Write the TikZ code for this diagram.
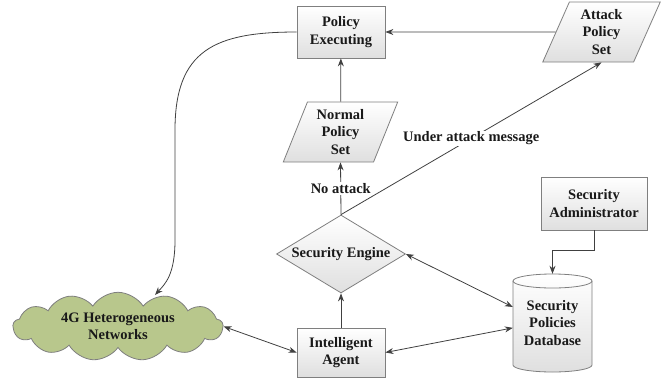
\documentclass[tikz,border=0pt]{standalone}
\usepackage{fontspec}
\setmainfont{Liberation Serif}
\usetikzlibrary{shapes.geometric,shapes.symbols,arrows.meta}
\definecolor{bordergray}{HTML}{7F7F7F}
\definecolor{arrowgray}{HTML}{404040}
\definecolor{cloudgreen}{RGB}{184,199,140}
\begin{document}
\begin{tikzpicture}[x=1pt,y=1pt,
  txt/.style={font=\fontsize{14.5}{17.5}\selectfont\bfseries, text=black!90, align=center},
  boxfill/.style={draw=bordergray, line width=0.8pt, top color=white, bottom color=gray!25},
  pbox/.style={boxfill, rectangle, minimum width=88pt, minimum height=52pt, inner sep=0pt, txt},
  para/.style={boxfill, trapezium, trapezium left angle=69, trapezium right angle=111,
    trapezium stretches=true, minimum width=115pt, minimum height=60pt, inner sep=0pt, txt},
  arr/.style={draw=arrowgray, line width=0.8pt, -{Stealth[length=8pt,width=6pt]}},
  darr/.style={arr, {Stealth[length=8pt,width=6pt]}-{Stealth[length=8pt,width=6pt]}},
  lbl/.style={txt, fill=white, inner sep=1pt}
]
\useasboundingbox (0,0) rectangle (661,-378);

% nodes
\node[pbox] (pe) at (341,-32) {Policy\\Executing};
\node[para, minimum width=118pt] (aps) at (601.5,-32) {Attack\\Policy\\Set};
\node[para] (nps) at (340.5,-132) {Normal\\Policy\\Set};
\node[boxfill, diamond, aspect=1.65, minimum width=129pt, minimum height=78pt, inner sep=0pt, txt] (se) at (341,-254) {Security Engine};
\node[boxfill, rectangle, minimum width=106pt, minimum height=53pt, inner sep=0pt, txt] (sa) at (594,-203.5) {Security\\Administrator};
\node[pbox, minimum height=49pt] (ia) at (341,-352.5) {Intelligent\\Agent};

% database cylinder
\path[boxfill] (513,-281) -- (513,-365)
  arc[start angle=180, end angle=360, x radius=39.5, y radius=7]
  -- (592,-281)
  arc[start angle=0, end angle=180, x radius=39.5, y radius=7] -- cycle;
\draw[bordergray, line width=0.8pt] (513,-281) arc[start angle=180, end angle=360, x radius=39.5, y radius=7];
\node[rectangle, minimum width=79pt, minimum height=98pt, inner sep=0pt, txt] (db) at (552.5,-323) {Security\\Policies\\Database};

% cloud
\node[cloud, cloud puffs=13, cloud puff arc=115, aspect=3.3, minimum width=210pt, minimum height=63pt,
      inner sep=0pt, draw=bordergray, line width=0.8pt, fill=cloudgreen, txt] (cloud) at (118,-326.5) {4G Heterogeneous\\Networks};
\coordinate (cin) at (155,-295);

% connectors
\draw[arr] (aps.west) -- (pe.east);
\draw[arr] (nps) -- (pe);
\draw[arr] (se.north) -- node[lbl, pos=0.5] {No attack} (nps.south);
\draw[arr] (se.north) -- node[lbl, pos=0.5] {Under attack message} (aps.south);
\draw[arr] (ia) -- (se);
\draw[darr] (se.east) -- (db.158);
\draw[darr] (ia.east) -- (db.187);
\draw[darr] (cloud.east) -- (ia.west);
\draw[arr] (sa.south) -- ++(0,-20) -| (db.north);
\draw[arr] (pe.west) .. controls (215,-32) and (175,-50) .. (175,-130)
  -- (175,-240) .. controls (175,-275) and (165,-284) .. (cin);
\end{tikzpicture}
\end{document}
